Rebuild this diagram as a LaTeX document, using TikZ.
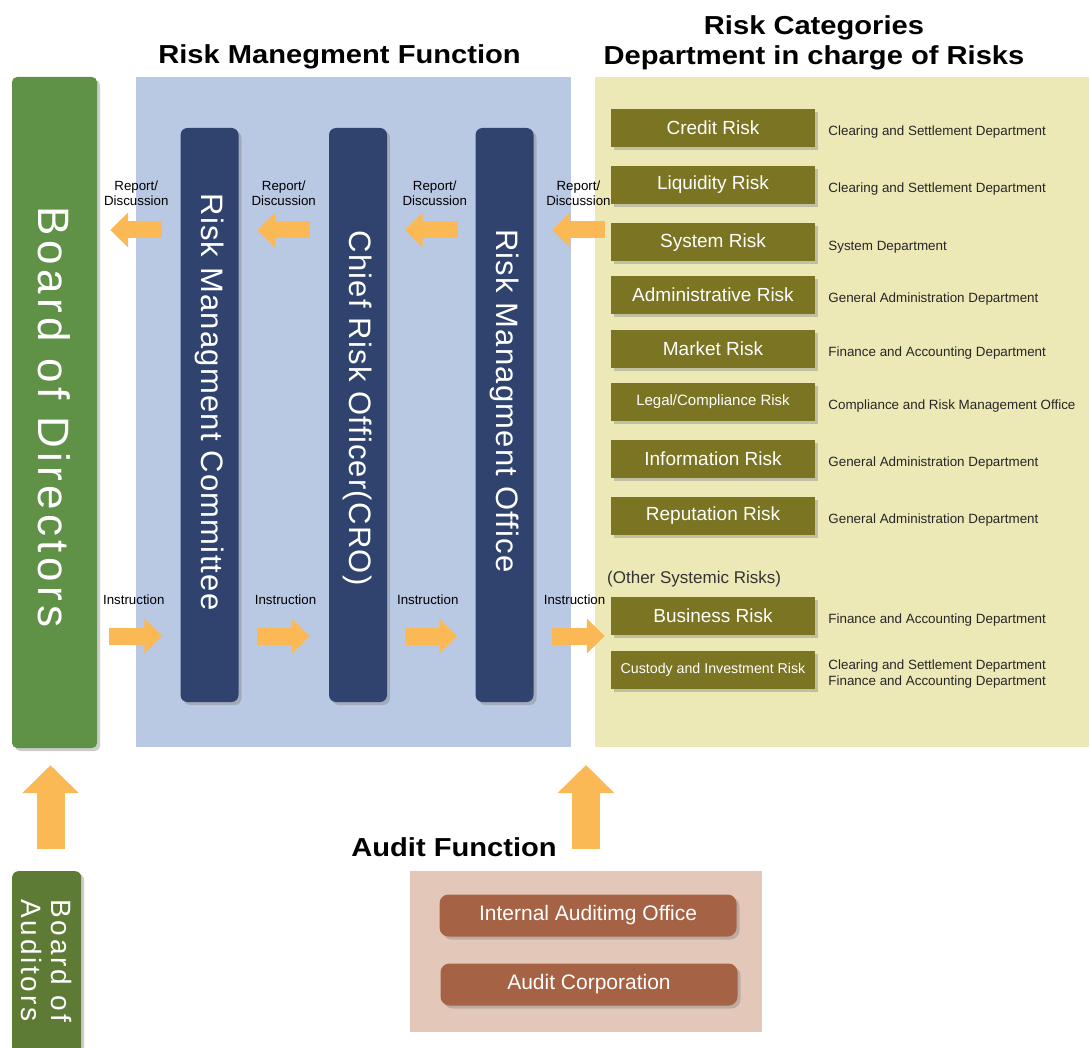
\documentclass[tikz,border=0pt]{standalone}
\usepackage{fontspec}
\setmainfont{Liberation Sans}
\newfontfamily\titlefont[FakeStretch=1.12]{Liberation Sans}
\newfontfamily\boxfont[LetterSpace=4]{Liberation Sans}
\newfontfamily\bodfont[LetterSpace=10]{Liberation Sans}
\usetikzlibrary{positioning,arrows.meta,shadows}

\definecolor{bodgreen}{HTML}{5F9146}
\definecolor{boagreen}{HTML}{5E7B35}
\definecolor{rmblue}{HTML}{B9C8E3}
\definecolor{navy}{HTML}{30436E}
\definecolor{catyellow}{HTML}{EDE9B7}
\definecolor{olive}{HTML}{7A7423}
\definecolor{arroworange}{HTML}{FBB955}
\definecolor{auditpink}{HTML}{E3C8BA}
\definecolor{auditbrown}{HTML}{A66244}

\begin{document}
\begin{tikzpicture}[x=1pt,y=-1pt,
		panel/.style={inner sep=0pt, outer sep=0pt},
		shade3/.style={drop shadow={shadow xshift=3pt, shadow yshift=-3pt, opacity=0.4}},
		navybox/.style={fill=navy, rounded corners=7pt, minimum width=58pt, minimum height=574pt, inner sep=0pt, shade3},
		navytext/.style={rotate=-90, text=white, font=\boxfont\fontsize{31}{36}\selectfont, inner sep=0pt},
		riskbox/.style={fill=olive, minimum width=204pt, minimum height=38pt, inner sep=0pt, text=white, font=\fontsize{19}{22}\selectfont, shade3},
		dept/.style={right=13pt of #1, yshift=-4.5pt, inner sep=0pt, text=black!85, font=\fontsize{13.4}{16}\selectfont, align=left},
		auditbox/.style={fill=auditbrown, rounded corners=9pt, minimum width=297pt, minimum height=42pt, inner sep=0pt, text=white, font=\fontsize{21}{24}\selectfont, shade3},
		flowlabel/.style={inner sep=0pt, align=center, font=\fontsize{13.3}{15}\selectfont},
		rep/.style={draw=arroworange, line width=17pt, -{Triangle[width=34pt,length=18pt]}},
		upar/.style={draw=arroworange, line width=28pt, -{Triangle[width=55pt,length=28pt]}},
		bigtitle/.style={inner sep=0pt, align=center, font=\titlefont\bfseries\fontsize{26}{30}\selectfont}]
	\useasboundingbox (0,0) rectangle (1089,1048);
	\clip (0,0) rectangle (1089,1048);

	% titles
	\node[bigtitle] (rmTitle) at (339.5,57) {Risk Manegment Function};
	\node[bigtitle] (catTitle) at (814,43) {Risk Categories\\Department in charge of Risks};

	% panels
	\node[panel, fill=rmblue, minimum width=435pt, minimum height=670pt] (rmPanel) at (353.5,412) {};
	\node[panel, fill=catyellow, minimum width=500pt, minimum height=670pt, anchor=north west] (catPanel) at (595,77) {};

	% board of directors
	\node[fill=bodgreen, rounded corners=5pt, minimum width=85pt, minimum height=671pt, inner sep=0pt, shade3] (bod) at (54.5,412.5) {};
	\node[rotate=-90, text=white, inner sep=0pt, font=\bodfont\fontsize{44}{50}\selectfont] (bodText) at (54.5,417) {Board of Directors};

	% risk management function
	\node[navybox] (rmc) at (209.5,415) {};
	\node[navybox] (cro) at (358,415) {};
	\node[navybox] (rmo) at (504.5,415) {};
	\node[navytext] (rmcText) at (209.5,402) {Risk Managment Committee};
	\node[navytext] (croText) at (358,408) {Chief Risk Officer(CRO)};
	\node[navytext] (rmoText) at (504.5,401) {Risk Managment Office};

	% risk categories
	\node[riskbox] (credit) at (713,128) {Credit Risk};
	\node[riskbox] (liquidity) at (713,185) {Liquidity Risk};
	\node[riskbox] (system) at (713,242.5) {System Risk};
	\node[riskbox] (admin) at (713,295) {Administrative Risk};
	\node[riskbox] (market) at (713,349) {Market Risk};
	\node[riskbox, font=\fontsize{15}{18}\selectfont] (legal) at (713,402) {Legal/Compliance Risk};
	\node[riskbox] (info) at (713,459) {Information Risk};
	\node[riskbox] (reputation) at (713,516) {Reputation Risk};
	\node[inner sep=0pt, anchor=west, text=black!80, font=\fontsize{17}{20}\selectfont] (otherRisks) at (607,579) {(Other Systemic Risks)};
	\node[riskbox] (business) at (713,616) {Business Risk};
	\node[riskbox, font=\fontsize{14.2}{17}\selectfont] (custody) at (713,670) {Custody and Investment Risk};

	\node[dept=credit] (creditDept) {Clearing and Settlement Department};
	\node[dept=liquidity] (liquidityDept) {Clearing and Settlement Department};
	\node[dept=system] (systemDept) {System Department};
	\node[dept=admin] (adminDept) {General Administration Department};
	\node[dept=market] (marketDept) {Finance and Accounting Department};
	\node[dept=legal] (legalDept) {Compliance and Risk Management Office};
	\node[dept=info] (infoDept) {General Administration Department};
	\node[dept=reputation] (reputationDept) {General Administration Department};
	\node[dept=business] (businessDept) {Finance and Accounting Department};
	\node[dept=custody] (custodyDept) {Clearing and Settlement Department\\Finance and Accounting Department};

	% report / discussion and instruction
	\coordinate (repY) at (0,230);
	\coordinate (insY) at (0,636);
	\draw[rep, shorten <=18pt, shorten >=13pt] (rmc.west |- repY) -- node[flowlabel, pos=0.53, above=16pt] (repA) {Report/\\Discussion} (bod.east |- repY);
	\draw[rep, shorten <=19pt, shorten >=18.5pt] (cro.west |- repY) -- node[flowlabel, pos=0.5, above=16pt] (repB) {Report/\\Discussion} (rmc.east |- repY);
	\draw[rep, shorten <=17pt, shorten >=17.5pt] (rmo.west |- repY) -- node[flowlabel, pos=0.46, above=16pt] (repC) {Report/\\Discussion} (cro.east |- repY);
	\draw[rep, shorten <=6pt, shorten >=18.5pt] (system.west |- repY) -- node[flowlabel, pos=0.42, above=16pt] (repD) {Report/\\Discussion} (rmo.east |- repY);

	\draw[rep, shorten <=12pt, shorten >=18pt] (bod.east |- insY) -- node[flowlabel, pos=0.44, above=23pt] (insA) {Instruction} (rmc.west |- insY);
	\draw[rep, shorten <=18pt, shorten >=19pt] (rmc.east |- insY) -- node[flowlabel, pos=0.52, above=23pt] (insB) {Instruction} (cro.west |- insY);
	\draw[rep, shorten <=17.5pt, shorten >=18pt] (cro.east |- insY) -- node[flowlabel, pos=0.46, above=23pt] (insC) {Instruction} (rmo.west |- insY);
	\draw[rep, shorten <=18pt, shorten >=6pt] (rmo.east |- insY) -- node[flowlabel, pos=0.53, above=23pt] (insD) {Instruction} (business.west |- insY);

	% audit function
	\node[fill=boagreen, rounded corners=6pt, minimum width=69pt, minimum height=190pt, inner sep=0pt, anchor=north west, shade3] (boa) at (12,871) {};
	\node[rotate=-90, anchor=west, align=left, text=white, inner sep=0pt, font=\bodfont\fontsize{28}{30}\selectfont] (boaText) at (47,899) {Board of\\Auditors};
	\node[panel, fill=auditpink, minimum width=352pt, minimum height=161pt, anchor=north west] (auditPanel) at (410,871) {};
	\node[auditbox] (internalAudit) at (588,915.5) {Internal Auditimg Office};
	\node[auditbox] (auditCorp) at (589,984.5) {Audit Corporation};
	\node[bigtitle] (auditTitle) at (454,847) {Audit Function};

	\coordinate (boaUp) at (50.5,871);
	\draw[upar, shorten <=22pt, shorten >=17pt] (boaUp) -- (boaUp |- bod.south);
	\draw[upar, shorten <=22pt, shorten >=18pt] (auditPanel.north) -- (auditPanel.north |- rmPanel.south);
\end{tikzpicture}
\end{document}
